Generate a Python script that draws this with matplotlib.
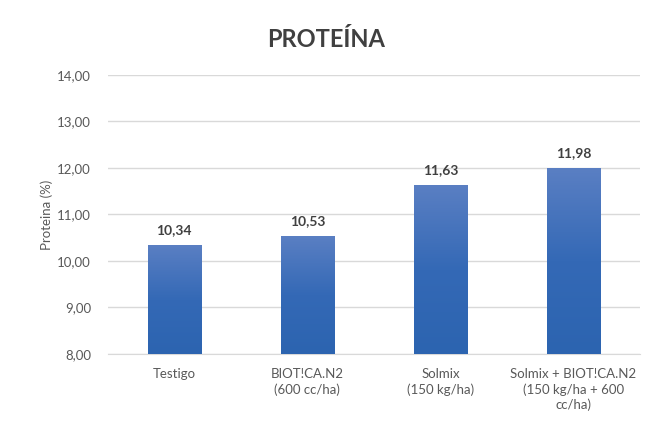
import numpy as np
import matplotlib.pyplot as plt
from matplotlib.colors import LinearSegmentedColormap

categories = ["Testigo", "BIOT!CA.N2\n(600 cc/ha)", "Solmix\n(150 kg/ha)",
              "Solmix + BIOT!CA.N2\n(150 kg/ha + 600\ncc/ha)"]
values = [10.34, 10.53, 11.63, 11.98]
value_labels = ["10,34", "10,53", "11,63", "11,98"]
yticks = [8, 9, 10, 11, 12, 13, 14]

plt.rcParams['font.family'] = ['Lato', 'DejaVu Sans']

fig = plt.figure(figsize=(6.53, 4.28), dpi=100)
ax = fig.add_axes([0.165, 0.173, 0.815, 0.652])

x = np.arange(len(values))
width = 0.4
bars = ax.bar(x, values, width, color='none', zorder=3)

cmap = LinearSegmentedColormap.from_list('g', ['#2C64B0', '#3469B6', '#5A7FC3'])
grad = np.linspace(0, 1, 256).reshape(-1, 1)
for b in bars:
    x0, y0 = b.get_x(), 8
    x1, y1 = x0 + b.get_width(), b.get_height()
    ax.imshow(grad, extent=[x0, x1, y0, y1], origin='lower', aspect='auto',
              cmap=cmap, zorder=3)

for xi, v, lab in zip(x, values, value_labels):
    ax.text(xi, v + 0.2, lab, ha='center', va='bottom', fontsize=10,
            fontweight='bold', color='#404040')

ax.set_xlim(-0.5, len(values) - 0.5)
ax.set_ylim(8, 14)
ax.set_yticks(yticks)
ax.set_yticklabels([f"{t:.2f}".replace('.', ',') for t in yticks])
ax.set_xticks(x)
ax.set_xticklabels(categories, fontsize=9.5, color='#595959', linespacing=1.3)
ax.tick_params(axis='y', length=0, labelsize=9.5, labelcolor='#595959', pad=12)
ax.tick_params(axis='x', length=0, pad=10)
ax.grid(axis='y', color='#d9d9d9', linewidth=1, zorder=0)
for s in ['top', 'right', 'left']:
    ax.spines[s].set_visible(False)
ax.spines['bottom'].set_color('#d9d9d9')
ax.set_ylabel("Proteina (%)", fontsize=9.5, color='#595959', labelpad=3)

fig.text(0.5, 0.908, "PROTEÍNA", ha='center', va='center', fontsize=17,
         fontweight='bold', color='#404040')

fig.savefig('out.png', dpi=100)
